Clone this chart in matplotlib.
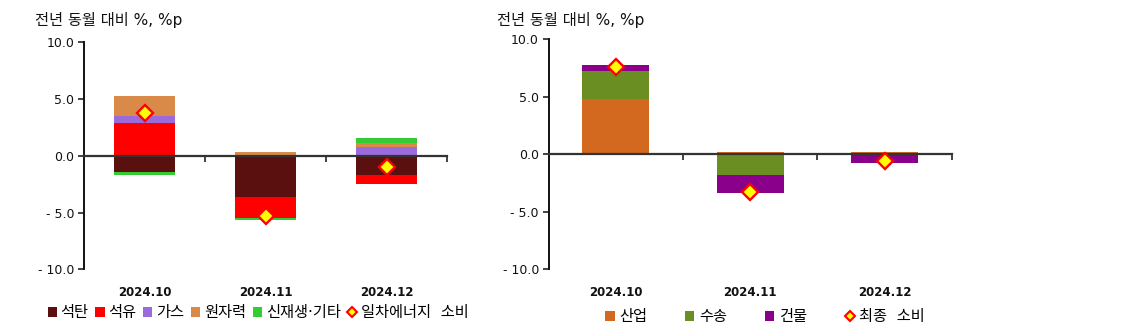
import matplotlib
matplotlib.use("Agg")
import matplotlib.pyplot as plt
import numpy as np
from matplotlib.lines import Line2D
from matplotlib.patches import Patch

plt.rcParams['font.family'] = ['DejaVu Sans', 'Noto Sans CJK KR']

months = ["2024.10", "2024.11", "2024.12"]

# Primary energy: contribution by source (%p)
coal = [-1.4, -3.6, -1.7]
oil = [2.9, -1.9, -0.8]
gas = [0.6, 0.0, 0.8]
nuclear = [1.8, 0.3, 0.3]
renew = [-0.3, -0.2, 0.5]
primary_total = [3.8, -5.3, -1.0]

# Final energy: contribution by sector (%p)
industry = [4.8, 0.2, 0.2]
transport = [2.4, -1.8, 0.0]
building = [0.5, -1.6, -0.8]
final_total = [7.6, -3.3, -0.6]

left_series = [("석탄", coal, "#5B1010"), ("석유", oil, "#FF0000"),
               ("가스", gas, "#9B6BDB"), ("원자력", nuclear, "#D98A48"),
               ("신재생·기타", renew, "#33CC33")]
right_series = [("산업", industry, "#D2691E"), ("수송", transport, "#6B8E23"),
                ("건물", building, "#8B008B")]

W, H = 1131, 335
fig = plt.figure(figsize=(W / 100, H / 100), dpi=100)


def frac(x0, y0, x1, y1):
    return [x0 / W, 1 - y1 / H, (x1 - x0) / W, (y1 - y0) / H]


def fmt(v):
    if v < 0:
        return f"- {abs(v):.1f}"
    return f"{v:.1f}"


def draw(ax, series, total, total_label):
    x = np.arange(len(months))
    pos = np.zeros(len(months))
    neg = np.zeros(len(months))
    handles = []
    for name, vals, color in series:
        v = np.array(vals, dtype=float)
        bottom = np.where(v >= 0, pos, neg)
        ax.bar(x, v, width=0.5, bottom=bottom, color=color, zorder=1,
               linewidth=0)
        pos = pos + np.where(v >= 0, v, 0)
        neg = neg + np.where(v < 0, v, 0)
        handles.append(Patch(facecolor=color, label=name))
    ax.plot(x, total, linestyle="none", marker="D", markersize=8,
            markerfacecolor="#FFFF00", markeredgecolor="#FF0000",
            markeredgewidth=1.7, zorder=4)
    handles.append(Line2D([], [], linestyle="none", marker="D", markersize=5,
                          markerfacecolor="#FFFF00", markeredgecolor="#FF0000",
                          markeredgewidth=1.5, label=total_label))

    ax.set_xlim(-0.5, len(months) - 0.5)
    ax.set_ylim(-10, 10)
    ax.set_yticks([-10, -5, 0, 5, 10])
    ax.set_yticklabels([fmt(v) for v in [-10, -5, 0, 5, 10]], fontsize=9)
    ax.set_xticks(np.arange(len(months)) + 0.5)
    ax.set_xticklabels([])
    ax.tick_params(axis="x", direction="out", length=4, width=1.2,
                   colors="#222222")
    ax.tick_params(axis="y", direction="out", length=4, width=1.2,
                   colors="#222222", labelcolor="#111111", pad=3)
    for s in ("top", "right"):
        ax.spines[s].set_visible(False)
    ax.spines["left"].set_linewidth(1.4)
    ax.spines["left"].set_color("#111111")
    ax.spines["bottom"].set_position(("data", 0))
    ax.spines["bottom"].set_linewidth(1.6)
    ax.spines["bottom"].set_color("#333333")
    ax.spines["bottom"].set_zorder(3)
    for i, m in enumerate(months):
        ax.text(i, -0.1, m, transform=ax.get_xaxis_transform(),
                ha="center", va="center", fontsize=8.5, fontweight="bold",
                color="#111111")
    return handles


ax1 = fig.add_axes(frac(84, 42.3, 447, 269.3))
h1 = draw(ax1, left_series, primary_total, "일차에너지  소비")
ax2 = fig.add_axes(frac(548.7, 39, 951.7, 269.3))
h2 = draw(ax2, right_series, final_total, "최종  소비")

fig.text(35 / W, 1 - 20 / H, "전년 동월 대비 %, %p", fontsize=11,
         ha="left", va="center", color="#111111")
fig.text(497 / W, 1 - 20 / H, "전년 동월 대비 %, %p", fontsize=11,
         ha="left", va="center", color="#111111")

fig.legend(handles=h1, loc="center", bbox_to_anchor=(258 / W, 1 - 313 / H),
           ncol=6, frameon=False, fontsize=11, handlelength=0.6,
           handleheight=0.6, handletextpad=0.25, columnspacing=0.45,
           borderaxespad=0, borderpad=0)
fig.legend(handles=h2, loc="center", bbox_to_anchor=(765 / W, 1 - 317 / H),
           ncol=4, frameon=False, fontsize=11, handlelength=0.6,
           handleheight=0.6, handletextpad=0.3, columnspacing=2.5,
           borderaxespad=0, borderpad=0)

fig.savefig("out.png", dpi=100)
